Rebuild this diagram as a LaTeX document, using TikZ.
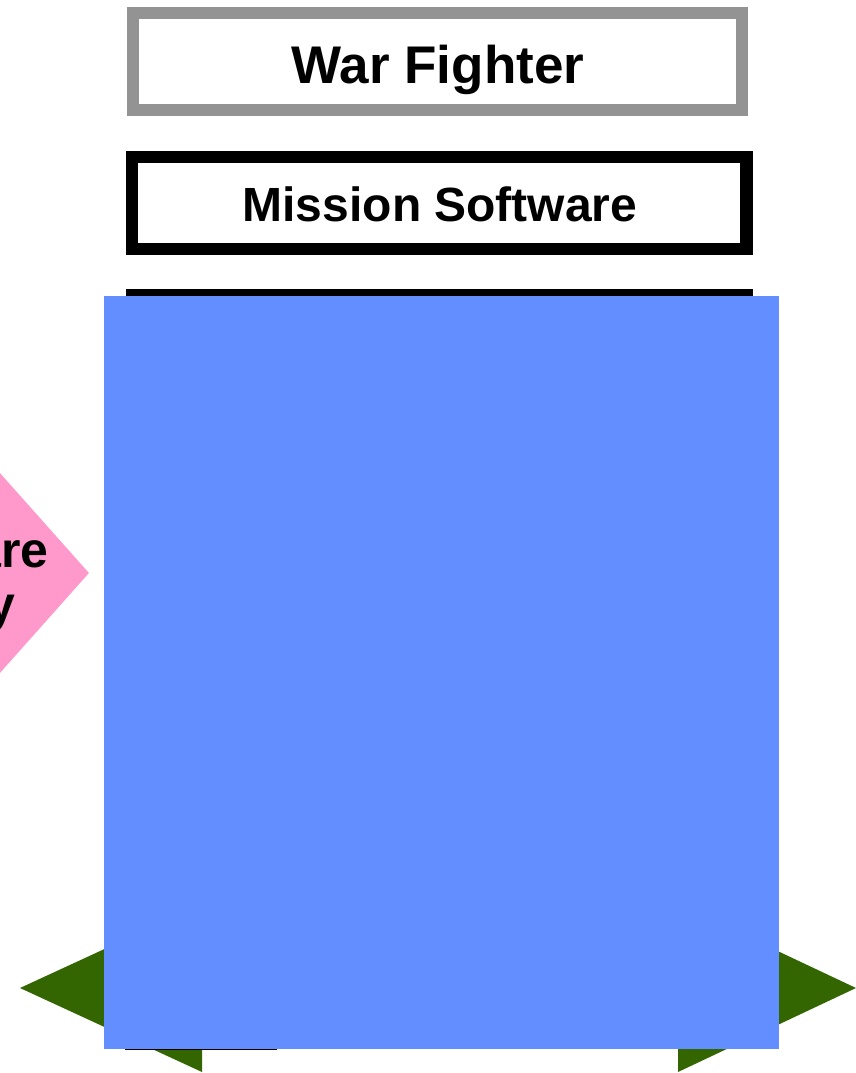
\documentclass[tikz,border=0pt]{standalone}
\usepackage{fontspec}
\setmainfont{Liberation Sans}
\usetikzlibrary{shapes.geometric}
\definecolor{boxgray}{HTML}{939393}
\definecolor{layerblue}{HTML}{628EFF}
\definecolor{arrowgreen}{HTML}{336600}
\definecolor{diapink}{HTML}{FF99CC}
\tikzset{
  labelfont/.style={font=\fontsize{50}{58}\selectfont\bfseries, inner sep=0pt, anchor=base},
  layerbox/.style={draw, line width=12.4pt, fill=white, inner sep=0pt, anchor=north west},
  headtri/.style={fill=arrowgreen, draw=none},
}
\begin{document}
\begin{tikzpicture}[x=1pt,y=-1pt]
\useasboundingbox (0,0) rectangle (856,1073);
% green arrow heads (behind the blue block)
\coordinate (ltip) at (20,988);
\coordinate (lt) at (202,904);
\coordinate (lb) at (202,1072);
\coordinate (rtip) at (856,988);
\coordinate (rt) at (678,904);
\coordinate (rb) at (678,1072);
\fill[headtri] (ltip) -- (lt) -- (lb) -- cycle;
\fill[headtri] (rtip) -- (rt) -- (rb) -- cycle;
% boxes
\node[layerbox, draw=boxgray, minimum width=608.6pt, minimum height=96.6pt] (warfighter) at (127,7) {};
\node[labelfont, font=\fontsize{53}{60}\selectfont\bfseries] (wftext) at (438,83) {War Fighter};
\node[layerbox, draw=black, minimum width=614.3pt, minimum height=91.6pt] (mission) at (126,151) {};
\node[labelfont, font=\fontsize{48}{56}\selectfont\bfseries] (mstext) at (440,221) {Mission Software};
\node[layerbox, draw=black, minimum width=614.3pt, minimum height=743.6pt] (platform) at (126,289) {};
% thin line at bottom
\coordinate (ls) at (125,1049.5);
\coordinate (le) at (277,1049.5);
\draw[line width=1.5pt, black] (ls) -- (le);
% blue block on top
\node[fill=layerblue, draw=none, inner sep=0pt, minimum width=675pt, minimum height=753pt, anchor=north west] (blue) at (104,296) {};
% pink diamond (partly outside the picture)
\node[diamond, fill=diapink, draw=none, inner sep=0pt, minimum width=292pt, minimum height=328pt] (safety) at (-57,573) {};
\node[labelfont] (sftext1) at (-57,567) {Software};
\node[labelfont] (sftext2) at (-60,621) {Safety};
\end{tikzpicture}
\end{document}
